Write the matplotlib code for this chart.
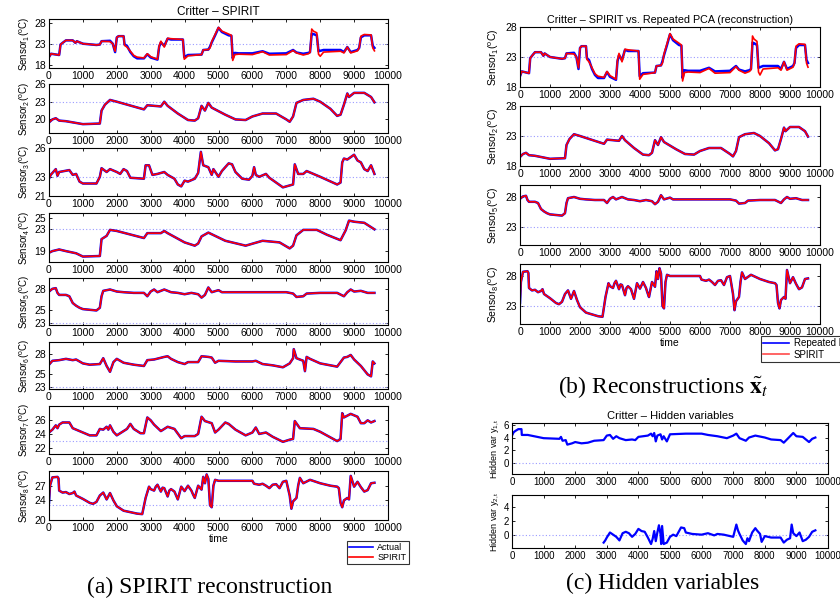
import matplotlib
matplotlib.use("Agg")
import matplotlib.pyplot as plt
from matplotlib.lines import Line2D

plt.rcParams['font.family'] = ['Liberation Sans', 'DejaVu Sans']
plt.rcParams['mathtext.fontset'] = 'custom'
plt.rcParams['mathtext.rm'] = 'Liberation Sans'
plt.rcParams['mathtext.it'] = 'Liberation Sans:italic'

# ---------------- sensor readings (time step, temperature in C) ----------------
t_s1 = [0, 60, 300, 340, 400, 500, 700, 780, 820, 1000, 1400, 1500, 1550, 1800, 1880,
        1950, 2000, 2050, 2200, 2230, 2300, 2400, 2500, 2600, 2800, 2900, 3000, 3200,
        3250, 3300, 3400, 3500, 3600, 3950, 3990, 4100, 4500, 4550, 4700, 4750, 4800,
        4900, 5000, 5100, 5300, 5380, 5420, 5480, 5600, 6000, 6300, 6500, 7000, 7200,
        7300, 7500, 7650, 7700, 7750, 7800, 7900, 7950, 8000, 8100, 8600, 8700, 8800,
        8900, 9100, 9150, 9200, 9300, 9500, 9550, 9600]
v_s1 = [19.8, 20.6, 20.3, 22.8, 23.2, 23.8, 23.8, 23.2, 23.6, 23.0, 22.7, 22.8, 23.6,
        23.7, 23.0, 21.0, 24.5, 24.8, 24.8, 22.8, 22.5, 21.0, 20.0, 19.5, 19.5, 20.5,
        19.7, 19.2, 22.3, 23.3, 22.5, 24.2, 24.0, 24.0, 19.8, 20.3, 20.4, 21.5, 21.6,
        22.3, 23.3, 25.0, 26.8, 25.8, 25.0, 24.9, 19.5, 20.8, 20.7, 20.7, 21.2, 20.6,
        20.7, 21.5, 20.9, 20.6, 20.8, 21.0, 25.4, 25.3, 25.0, 21.2, 21.3, 21.5, 21.5,
        21.0, 22.2, 21.0, 21.5, 22.0, 24.5, 25.0, 25.0, 22.5, 22.0]
spirit_s1 = [19.8, 20.6, 20.3, 22.8, 23.2, 23.8, 23.8, 23.2, 23.6, 23.0, 22.7, 22.8, 23.6,
             23.5, 23.0, 21.2, 24.5, 24.8, 24.8, 22.6, 22.2, 21.2, 20.2, 19.8, 19.6, 20.6,
             19.9, 19.3, 22.5, 23.6, 22.2, 24.3, 24.2, 24.0, 19.3, 20.1, 20.4, 21.5, 21.6,
             22.0, 23.5, 25.2, 26.9, 26.0, 25.3, 25.0, 19.0, 20.4, 20.5, 20.4, 21.1, 20.3,
             20.4, 21.4, 20.8, 20.3, 20.6, 20.9, 26.5, 26.0, 25.6, 20.5, 20.0, 21.0, 21.2,
             20.8, 22.2, 20.8, 21.3, 22.0, 24.8, 25.2, 25.1, 22.0, 21.3]

t_s2 = [0, 100, 200, 300, 500, 1000, 1500, 1550, 1650, 1800, 2000, 2800, 2900, 3300,
        3400, 3500, 3800, 4100, 4300, 4400, 4500, 4600, 4700, 4800, 5200, 5500, 5800,
        6000, 6300, 6700, 7000, 7100, 7200, 7300, 7500, 7800, 8000, 8300, 8500, 8600,
        8700, 8800, 8850, 9000, 9300, 9500, 9600]
v_s2 = [19.5, 20.0, 20.2, 19.8, 19.7, 19.2, 19.3, 21.5, 22.5, 23.3, 23.0, 21.7, 22.4,
        22.2, 23.0, 22.3, 21.0, 19.9, 19.8, 20.2, 22.3, 21.5, 22.8, 22.0, 20.8, 20.0,
        19.9, 20.5, 21.0, 21.0, 20.0, 19.6, 20.5, 22.8, 23.3, 23.5, 23.0, 21.8, 20.6,
        20.8, 22.5, 24.4, 23.8, 24.5, 24.5, 23.8, 22.9]

t_s3 = [0, 50, 200, 250, 300, 600, 700, 800, 900, 1000, 1400, 1500, 1550, 1700, 1800,
        2000, 2100, 2200, 2300, 2400, 2800, 2850, 2950, 3050, 3200, 3400, 3500, 3700,
        3800, 3900, 4000, 4100, 4300, 4400, 4480, 4550, 4700, 4800, 4850, 5000, 5100,
        5300, 5400, 5500, 5700, 5900, 6000, 6050, 6100, 6200, 6400, 6500, 6900, 7000,
        7200, 7250, 7350, 7500, 7600, 7800, 8000, 8500, 8600, 8650, 8700, 8800, 9000,
        9100, 9200, 9300, 9400, 9500, 9600]
v_s3 = [22.8, 23.2, 23.8, 23.1, 23.5, 23.7, 23.2, 23.3, 22.5, 22.3, 22.3, 23.0, 23.9,
        23.5, 23.8, 23.5, 23.3, 23.8, 23.6, 22.9, 22.8, 24.2, 24.2, 23.2, 23.3, 23.5,
        23.2, 22.8, 22.2, 22.0, 22.6, 22.5, 22.8, 23.4, 25.6, 24.2, 24.0, 23.2, 23.8,
        23.0, 23.6, 24.4, 24.3, 23.5, 22.8, 22.7, 23.1, 24.0, 23.2, 23.0, 23.3, 22.9,
        21.9, 22.0, 22.2, 24.3, 23.3, 23.3, 23.6, 23.3, 23.0, 22.2, 22.4, 24.5, 24.9,
        24.8, 25.3, 24.7, 24.5, 23.8, 23.6, 24.2, 23.3]

t_s4 = [0, 100, 300, 500, 800, 1000, 1500, 1550, 1700, 1800, 2000, 2800, 2900, 3300,
        3400, 3500, 4000, 4300, 4400, 4500, 4700, 5200, 5800, 6300, 6800, 7100, 7200,
        7300, 7500, 7900, 8200, 8600, 8750, 8850, 9000, 9300, 9600]
v_s4 = [18.7, 19.0, 19.3, 19.0, 18.6, 18.0, 18.1, 21.2, 21.8, 22.9, 22.7, 21.4, 22.3,
        22.3, 22.7, 22.3, 20.6, 20.0, 20.4, 21.7, 22.4, 20.9, 20.0, 20.9, 20.6, 19.5,
        20.0, 21.9, 22.9, 22.9, 22.0, 21.0, 22.8, 24.6, 24.4, 24.2, 23.0]

t_s5 = [0, 100, 200, 250, 300, 500, 600, 700, 800, 900, 1000, 1200, 1400, 1500, 1550,
        1600, 1800, 2000, 2200, 2500, 2800, 2900, 3000, 3100, 3200, 3400, 3600, 3800,
        4000, 4200, 4400, 4500, 4600, 4700, 4800, 5000, 5100, 5500, 6000, 7000, 7200,
        7300, 7500, 7600, 8000, 8500, 8700, 8800, 8900, 9000, 9200, 9400, 9600]
v_s5 = [27.7, 28.1, 28.2, 27.5, 27.2, 27.2, 27.0, 26.0, 25.6, 25.3, 25.1, 25.0, 24.9,
        25.3, 27.0, 27.8, 28.0, 27.7, 27.6, 27.5, 27.5, 27.0, 27.7, 28.0, 27.6, 28.0,
        27.6, 27.5, 27.3, 27.5, 27.3, 26.8, 27.2, 28.3, 27.6, 27.9, 27.6, 27.6, 27.6,
        27.6, 27.4, 26.9, 27.0, 27.4, 27.5, 27.5, 27.0, 27.6, 28.0, 27.7, 27.8, 27.5,
        27.5]

t_s6 = [0, 100, 300, 500, 700, 800, 1000, 1200, 1500, 1600, 1700, 1800, 1900, 2000,
        2200, 2500, 2800, 2900, 3100, 3400, 3500, 3600, 3800, 4000, 4100, 4400, 4500,
        4700, 4800, 4900, 5000, 5500, 6000, 6100, 6300, 6600, 6900, 7100, 7200, 7220,
        7300, 7500, 7550, 7600, 7700, 8000, 8500, 8700, 8800, 8900, 9000, 9200, 9400,
        9500, 9550, 9600]
v_s6 = [26.4, 27.0, 27.1, 27.3, 27.1, 27.2, 26.6, 26.4, 26.5, 27.4, 26.2, 25.3, 26.8,
        27.3, 26.7, 26.4, 26.2, 27.1, 27.2, 27.6, 27.7, 27.3, 26.8, 26.5, 26.8, 26.8,
        27.7, 27.6, 27.5, 26.7, 27.0, 26.9, 26.9, 27.0, 26.5, 26.3, 26.0, 26.6, 27.4,
        28.8, 27.4, 27.0, 25.4, 27.6, 27.3, 26.6, 26.1, 27.5, 27.6, 27.9, 27.2, 26.2,
        24.9, 24.6, 26.9, 26.6]

t_s7 = [0, 100, 200, 250, 300, 400, 600, 700, 900, 1200, 1400, 1500, 1600, 1700, 1750,
        1800, 1900, 2000, 2300, 2400, 2500, 2700, 2800, 2900, 3000, 3100, 3300, 3500,
        3700, 3900, 4000, 4300, 4400, 4500, 4600, 4800, 4900, 5000, 5200, 5300, 5500,
        5800, 6000, 6100, 6200, 6400, 6600, 6900, 7100, 7200, 7250, 7400, 7800, 8000,
        8500, 8600, 8650, 8700, 8900, 9100, 9200, 9300, 9400, 9500, 9600]
v_s7 = [24.2, 24.6, 25.2, 24.8, 25.3, 25.6, 25.6, 24.8, 24.4, 23.8, 23.8, 24.7, 24.6,
        25.0, 24.6, 25.2, 24.3, 23.8, 24.7, 25.4, 24.7, 24.1, 24.1, 26.3, 25.9, 25.3,
        24.4, 25.0, 24.7, 23.4, 23.7, 23.7, 24.0, 26.4, 25.8, 25.5, 24.2, 24.6, 25.6,
        25.4, 24.6, 23.8, 24.2, 24.9, 24.0, 24.2, 23.6, 22.9, 23.2, 23.3, 25.8, 24.8,
        24.7, 24.3, 23.0, 23.3, 26.9, 26.3, 26.8, 26.4, 25.5, 25.5, 25.9, 25.6, 25.8]

t_s8 = [0, 30, 100, 250, 280, 300, 400, 500, 600, 700, 750, 800, 1000, 1200, 1300, 1400,
        1500, 1600, 1700, 1800, 1900, 2000, 2200, 2400, 2600, 2750, 2850, 2950, 3000,
        3100, 3150, 3200, 3300, 3350, 3400, 3500, 3550, 3600, 3700, 3800, 3850, 3900,
        4000, 4100, 4200, 4250, 4300, 4400, 4500, 4550, 4600, 4650, 4700, 4750, 4800,
        4850, 4900, 5000, 6000, 6050, 6200, 6300, 6400, 6500, 6600, 6700, 6800, 6900,
        7000, 7100, 7150, 7200, 7300, 7350, 7400, 7500, 7700, 8000, 8300, 8500, 8550,
        8600, 8650, 8700, 8800, 8850, 8900, 9000, 9100, 9200, 9300, 9400, 9500, 9600]
v_s8 = [23.5, 27.0, 28.7, 28.8, 28.5, 26.0, 25.6, 25.7, 25.3, 25.5, 25.8, 25.0, 24.3,
        23.5, 23.3, 23.7, 25.0, 25.6, 24.2, 25.5, 24.0, 22.8, 21.9, 21.6, 21.3, 21.2,
        24.5, 26.8, 26.3, 26.0, 26.8, 27.2, 25.8, 26.6, 26.5, 24.8, 26.0, 26.3, 25.8,
        24.2, 25.5, 26.8, 25.9, 27.0, 26.0, 25.2, 24.5, 27.0, 26.2, 28.8, 27.5, 29.3,
        28.4, 23.0, 22.6, 27.0, 28.2, 28.0, 28.0, 27.4, 27.2, 27.4, 27.0, 26.5, 27.2,
        27.3, 26.5, 27.8, 28.0, 25.0, 22.3, 23.8, 24.5, 27.0, 28.6, 27.5, 28.2, 27.5,
        27.0, 26.8, 26.5, 23.5, 22.6, 24.0, 24.5, 24.2, 29.0, 26.8, 27.8, 26.7, 25.8,
        26.1, 27.5, 27.6]

# ---------------- hidden variables ----------------
t_y1 = [0, 50, 100, 200, 300, 310, 500, 700, 1000, 1500, 1550, 1600, 1700, 1750, 1900,
        2000, 2200, 2400, 2600, 2900, 3000, 3100, 3200, 3300, 3400, 3600, 3800, 3900,
        4000, 4300, 4400, 4450, 4500, 4550, 4600, 4700, 4750, 4800, 4900, 5000, 5500,
        6000, 6200, 6500, 6800, 7000, 7100, 7200, 7400, 7500, 7700, 8000, 8200, 8500,
        8600, 8700, 8800, 8900, 9000, 9200, 9300, 9400, 9500, 9600]
v_y1 = [4.3, 4.8, 5.0, 5.3, 5.3, 4.4, 4.4, 4.2, 3.9, 3.8, 4.1, 3.5, 3.6, 2.9, 3.1, 3.3,
        3.1, 3.2, 3.5, 3.6, 4.3, 4.4, 3.8, 4.2, 3.9, 3.6, 3.7, 3.6, 4.1, 4.3, 4.6, 4.2,
        4.7, 3.4, 4.3, 4.5, 3.7, 4.2, 3.4, 4.5, 4.6, 4.6, 4.4, 4.2, 3.9, 4.3, 4.6, 3.9,
        3.5, 4.0, 4.3, 4.0, 3.7, 3.6, 3.2, 3.7, 4.2, 4.7, 4.2, 4.1, 3.7, 3.3, 3.8, 4.0]

t_y2 = [2900, 2950, 3000, 3100, 3200, 3300, 3400, 3500, 3600, 3700, 3800, 3900, 4000,
        4100, 4200, 4300, 4400, 4450, 4500, 4550, 4600, 4650, 4700, 4720, 4750, 4800,
        4900, 5000, 5100, 5200, 5350, 5450, 5500, 5700, 6000, 6200, 6400, 6500, 6700,
        7000, 7100, 7150, 7200, 7300, 7400, 7450, 7500, 7600, 7700, 7750, 7850, 7900,
        8000, 8200, 8500, 8600, 8700, 8800, 8850, 8900, 9000, 9100, 9200, 9300, 9400,
        9500, 9600]
v_y2 = [-1.0, -0.7, -0.3, 0.4, 0.1, -0.2, -0.7, 0.3, 0.5, 0.3, -0.2, 0.2, 0.9, 0.6,
        0.5, -0.3, -1.2, -0.5, 0.6, -0.8, 0.4, 1.4, 0.2, -1.2, 1.3, -1.2, -1.0, -0.2,
        0.1, -0.1, 1.1, 1.0, 0.4, 0.2, 0.1, 0.3, 0.0, 0.2, 0.1, -0.2, 1.5, 0.7, 0.2,
        -0.7, -1.2, -0.4, -0.8, 0.4, 1.0, 0.7, 0.2, -0.9, -0.1, -0.3, -0.3, -1.0, -0.6,
        -0.4, 1.5, 0.3, -0.1, 0.4, -0.8, -0.6, -0.2, 0.5, 0.7]

sensors = {
    1: (t_s1, v_s1, spirit_s1),
    2: (t_s2, v_s2, v_s2),
    3: (t_s3, v_s3, v_s3),
    4: (t_s4, v_s4, v_s4),
    5: (t_s5, v_s5, v_s5),
    6: (t_s6, v_s6, v_s6),
    7: (t_s7, v_s7, v_s7),
    8: (t_s8, v_s8, v_s8),
}

left_ylims = {1: (17.2, 28.9), 2: (17.7, 26), 3: (21, 26), 4: (17, 26),
              5: (22.75, 29.7), 6: (22.65, 29.9), 7: (21.2, 27.9), 8: (20, 30)}
left_yticks = {1: [18, 23, 28], 2: [20, 23, 26], 3: [21, 23, 26], 4: [19, 23, 25],
               5: [23, 25, 28], 6: [23, 25, 28], 7: [22, 24, 26], 8: [20, 24, 27]}
xticks = list(range(0, 10001, 1000))

BLUE = '#0000ff'
RED = '#ff0000'
DOT = '#9a9aff'

W, H = 840, 600
fig = plt.figure(figsize=(8.4, 6.0), dpi=100)


def px_axes(x0, x1, y0, y1):
    return fig.add_axes([x0 / W, 1 - y1 / H, (x1 - x0) / W, (y1 - y0) / H])


def style(ax, fs=7.5):
    ax.set_xlim(0, 10000)
    ax.set_xticks(xticks)
    ax.tick_params(direction='in', top=True, right=True, length=2.5, width=0.6,
                   labelsize=fs, pad=2)
    for s in ax.spines.values():
        s.set_linewidth(0.8)


def ylab(n):
    return r'Sensor$_{\mathrm{%d}}$($^{\mathrm{o}}$C)' % n


# ---------------- (a) SPIRIT reconstruction ----------------
left_rows = [(19, 68), (84, 133), (148, 196), (213, 262), (278, 325), (342, 389),
             (406, 454), (471, 520)]
for i, (y0, y1) in zip(range(1, 9), left_rows):
    ax = px_axes(49, 388, y0, y1)
    t, act, spi = sensors[i]
    ax.axhline(23, color=DOT, ls=(0, (1, 2)), lw=0.8)
    ax.plot(t, act, color=BLUE, lw=1.8)
    ax.plot(t, spi, color=RED, lw=1.2)
    style(ax)
    ax.set_ylim(*left_ylims[i])
    ax.set_yticks(left_yticks[i])
    ax.set_ylabel(ylab(i), fontsize=7, labelpad=2)
    if i == 1:
        ax.set_title('Critter \u2013 SPIRIT', fontsize=8.5, pad=3)
    if i == 8:
        ax.set_xlabel('time', fontsize=7.5, labelpad=1)

leg_a = fig.legend([Line2D([], [], color=BLUE, lw=1.2), Line2D([], [], color=RED, lw=1.2)],
                   ['Actual', 'SPIRIT'], loc='upper left',
                   bbox_to_anchor=(347 / W, 1 - 541 / H), fontsize=6.5, frameon=True,
                   fancybox=False, edgecolor='black', handlelength=2.6,
                   borderpad=0.25, labelspacing=0.1, handletextpad=0.5, borderaxespad=0)
leg_a.get_frame().set_linewidth(0.8)

fig.text(210 / W, 1 - 587 / H, '(a) SPIRIT reconstruction', ha='center', va='center',
         family='Liberation Serif', fontsize=17)

# ---------------- (b) Reconstructions ----------------
right_rows = [(27, 87), (106, 166), (185, 245), (264, 324)]
right_ids = [1, 2, 5, 8]
for n, (y0, y1) in zip(right_ids, right_rows):
    ax = px_axes(520, 820, y0, y1)
    t, act, spi = sensors[n]
    ax.axhline(23, color=DOT, ls=(0, (1, 2)), lw=0.8)
    ax.plot(t, act, color=BLUE, lw=1.8)
    ax.plot(t, spi, color=RED, lw=1.2)
    style(ax)
    ax.set_ylim((18, 28) if n in (1, 2) else (20, 30))
    ax.set_yticks([18, 23, 28] if n in (1, 2) else [23, 28])
    ax.set_ylabel(ylab(n), fontsize=7.5, labelpad=3)
    if n == 1:
        ax.set_title('Critter \u2013 SPIRIT vs. Repeated PCA (reconstruction)',
                     fontsize=7.75, pad=3)
    if n == 8:
        ax.set_xlabel('time', fontsize=7.5, labelpad=1)

leg_b = fig.legend([Line2D([], [], color=BLUE, lw=1.2), Line2D([], [], color='#ff4a4a', lw=1.2)],
                   ['Repeated PCA', 'SPIRIT'], loc='upper left',
                   bbox_to_anchor=(761 / W, 1 - 336 / H), fontsize=7, frameon=True,
                   fancybox=False, edgecolor='black', handlelength=2.6,
                   borderpad=0.25, labelspacing=0.15, handletextpad=0.5, borderaxespad=0)
leg_b.get_frame().set_linewidth(0.8)

fig.text(663 / W, 1 - 387 / H, r'(b) Reconstructions $\tilde{\mathbf{x}}_t$', ha='center',
         va='center', family='Liberation Serif', math_fontfamily='stix', fontsize=17)

# ---------------- (c) Hidden variables ----------------
ax1 = px_axes(512, 828, 423, 474)
ax1.axhline(0, color=DOT, ls=(0, (1, 2)), lw=0.8)
ax1.plot(t_y1, v_y1, color=BLUE, lw=1.6)
style(ax1, fs=7)
ax1.set_ylim(-1.65, 6.25)
ax1.set_yticks([0, 2, 4, 6])
ax1.set_ylabel(r'Hidden var y$_{\mathrm{1,t}}$', fontsize=6.5, labelpad=2)
ax1.set_title('Critter \u2013 Hidden variables', fontsize=8, pad=3)

ax2 = px_axes(512, 828, 495, 548)
ax2.axhline(0, color=DOT, ls=(0, (1, 2)), lw=0.8)
ax2.plot(t_y2, v_y2, color=BLUE, lw=1.6)
style(ax2, fs=7)
ax2.set_ylim(-1.75, 5.6)
ax2.set_yticks([0, 2, 4])
ax2.set_ylabel(r'Hidden var y$_{\mathrm{2,t}}$', fontsize=6.5, labelpad=2)

fig.text(663 / W, 1 - 583 / H, '(c) Hidden variables', ha='center', va='center',
         family='Liberation Serif', fontsize=17)

fig.savefig('out.png', dpi=100)
